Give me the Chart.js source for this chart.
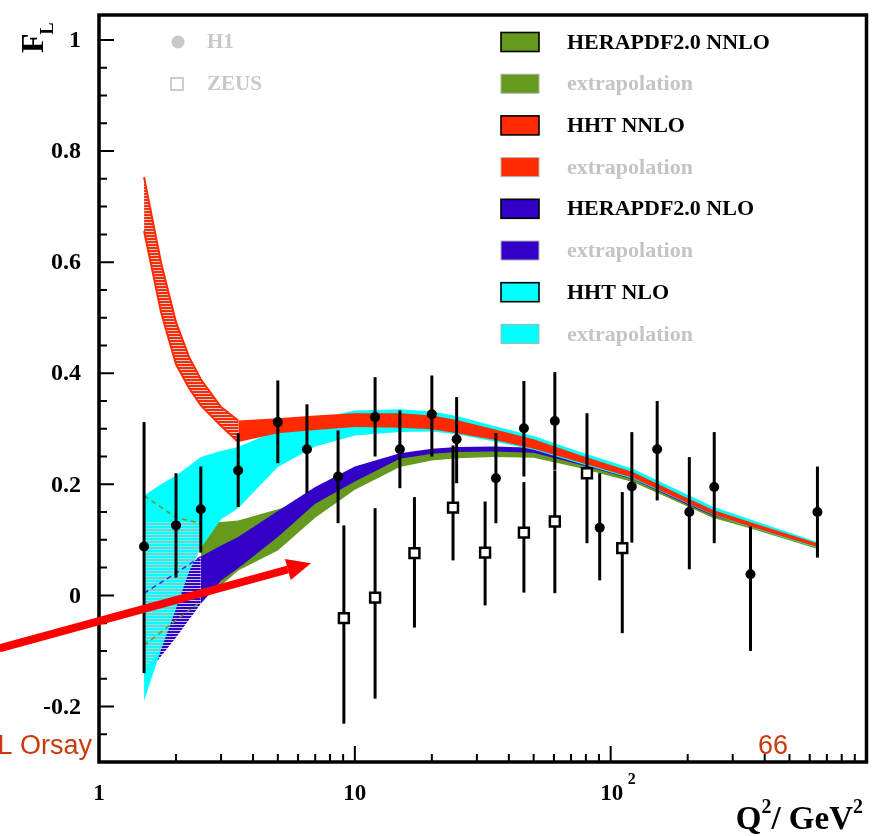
<!DOCTYPE html>
<html>
  <head>
    <meta charset="utf-8" />
    <title>FL vs Q2</title>
    <style>
      body { margin: 0; background: #fff; }
    </style>
  </head>
  <body>
    <canvas id="chart" width="876" height="836"></canvas>
    <script src="https://cdn.jsdelivr.net/npm/chart.js@4.4.1/dist/chart.umd.min.js"></script>
    <script>
      // H1 measurements (Q2, FL, upper and lower end of error bar)
      const h1Q = [1.5, 2.0, 2.5, 3.5, 5.0, 6.5, 8.6, 12, 15, 20, 25, 35.6, 45.8, 60.5, 90.6, 121, 152, 203, 254, 352, 643];
      const h1F = [0.088, 0.126, 0.155, 0.225, 0.312, 0.263, 0.214, 0.321, 0.263, 0.326, 0.281, 0.211, 0.301, 0.314, 0.122, 0.196, 0.263, 0.150, 0.195, 0.038, 0.150];
      const h1Hi = [0.312, 0.220, 0.232, 0.292, 0.387, 0.344, 0.297, 0.393, 0.333, 0.396, 0.357, 0.292, 0.386, 0.402, 0.220, 0.294, 0.350, 0.249, 0.294, 0.124, 0.232];
      const h1Lo = [-0.140, 0.032, 0.077, 0.159, 0.238, 0.184, 0.130, 0.250, 0.193, 0.250, 0.202, 0.130, 0.214, 0.226, 0.027, 0.095, 0.171, 0.047, 0.094, -0.100, 0.068];

      // ZEUS measurements
      const zQ = [9.06, 12.0, 17.1, 24.2, 32.3, 45.8, 60.5, 80.8, 111];
      const zF = [-0.041, -0.004, 0.076, 0.158, 0.077, 0.113, 0.133, 0.220, 0.085];
      const zHi = [0.126, 0.157, 0.177, 0.270, 0.169, 0.204, 0.225, 0.328, 0.186];
      const zLo = [-0.231, -0.186, -0.058, 0.063, -0.018, 0.005, 0.004, 0.094, -0.068];

      // HHT NNLO (red)
      const redExQ = [1.5, 1.75, 2.0, 2.25, 2.5, 3.0, 3.5];
      const redExHi = [0.753, 0.598, 0.492, 0.429, 0.389, 0.339, 0.315];
      const redExLo = [0.656, 0.509, 0.416, 0.373, 0.342, 0.305, 0.276];
      const fitQ = [3.5, 5, 7, 10, 15, 20, 25, 35, 50, 75, 122, 200, 250, 350, 650];
      const redHi = [0.315, 0.319, 0.324, 0.328, 0.328, 0.324, 0.316, 0.299, 0.281, 0.253, 0.222, 0.175, 0.154, 0.132, 0.093];
      const redLo = [0.276, 0.292, 0.298, 0.303, 0.302, 0.299, 0.292, 0.280, 0.264, 0.240, 0.212, 0.166, 0.146, 0.124, 0.086];

      // HHT NLO (cyan)
      const cyanQ = [1.5, 1.75, 2.0, 2.25, 2.5, 3.0, 3.5, 5, 7, 10, 15, 20, 25, 35, 50, 75, 122, 200, 250, 350, 650];
      const cyanHi = [0.180, 0.200, 0.216, 0.233, 0.249, 0.260, 0.267, 0.298, 0.318, 0.333, 0.335, 0.331, 0.323, 0.305, 0.287, 0.259, 0.228, 0.181, 0.160, 0.137, 0.095];
      const cyanLo = [-0.190, -0.097, -0.024, 0.043, 0.085, 0.137, 0.157, 0.231, 0.268, 0.288, 0.294, 0.295, 0.290, 0.277, 0.262, 0.238, 0.210, 0.165, 0.145, 0.123, 0.085];

      // HERAPDF2.0 NNLO (green)
      const exQ = [1.5, 2.0, 2.5];
      const greenExHi = [0.18, 0.14, 0.13];
      const greenExLo = [-0.09, -0.045, -0.011];
      const pdfQ = [2.5, 3.0, 3.5, 5, 7, 10, 15, 20, 25, 35, 50, 75, 122, 200, 250, 350, 650];
      const greenHi = [0.130, 0.132, 0.135, 0.155, 0.175, 0.215, 0.249, 0.257, 0.260, 0.261, 0.259, 0.239, 0.212, 0.166, 0.146, 0.127, 0.088];
      const greenLo = [-0.011, 0.018, 0.045, 0.081, 0.140, 0.190, 0.231, 0.243, 0.247, 0.249, 0.248, 0.230, 0.204, 0.160, 0.140, 0.121, 0.083];

      // HERAPDF2.0 NLO (blue)
      const blueExHi = [0.004, 0.04, 0.07];
      const blueExLo = [-0.148, -0.076, -0.015];
      const blueHi = [0.070, 0.090, 0.105, 0.152, 0.195, 0.232, 0.256, 0.264, 0.267, 0.268, 0.266, 0.244, 0.215, 0.169, 0.149, 0.129, 0.089];
      const blueLo = [-0.015, 0.027, 0.049, 0.105, 0.165, 0.205, 0.246, 0.255, 0.258, 0.259, 0.257, 0.236, 0.209, 0.163, 0.144, 0.125, 0.086];

      // gray hatching over the low-Q2 part of the cyan band
      const hatchQ = [1.5, 1.75, 2.0, 2.25, 2.5];
      const hatchHi = [0.135, 0.135, 0.135, 0.135, 0.135];
      const hatchLo = [-0.135, -0.097, -0.024, 0.043, 0.085];

      const yMajor = [-0.2, 0, 0.2, 0.4, 0.6, 0.8, 1];
      const yLabels = ["-0.2", "0", "0.2", "0.4", "0.6", "0.8", "1"];
      const xMajor = [1, 10, 100];

      const legendLabels = ["HERAPDF2.0 NNLO", "extrapolation", "HHT NNLO", "extrapolation",
        "HERAPDF2.0 NLO", "extrapolation", "HHT NLO", "extrapolation"];

      // arrow annotation in data coordinates
      const arrowFrom = { x: 0.408, y: -0.0955 };
      const arrowTo = { x: 6.74, y: 0.058 };

      const GREEN = "#669a1e";
      const RED = "#ff2a00";
      const BLUE = "#3300c8";
      const CYAN = "#00ffff";
      const legendColors = [GREEN, GREEN, RED, RED, BLUE, BLUE, CYAN, CYAN];

      function stripes(bg, fg, h, rows) {
        const c = document.createElement("canvas");
        c.width = 4;
        c.height = h;
        const g = c.getContext("2d");
        if (bg) {
          g.fillStyle = bg;
          g.fillRect(0, 0, 4, h);
        }
        g.fillStyle = fg;
        g.fillRect(0, 0, 4, rows || 1);
        return g.createPattern(c, "repeat");
      }

      const redHatch = stripes(RED, "#d0d0d0", 3, 1);
      const blueHatch = stripes(BLUE, "#c8c8e8", 3, 1);
      const grayHatch = stripes(null, "#c8c8c8", 3, 1);

      const datasets = [];
      function pts(q, v) {
        return q.map((x, i) => ({ x: x, y: v[i] }));
      }
      function band(label, q, hi, lo, fillColor, order, edge) {
        const lowIdx = datasets.length;
        datasets.push({
          label: label + " low",
          data: pts(q, lo),
          borderColor: edge || fillColor,
          borderWidth: edge ? 2 : 0,
          pointRadius: 0,
          fill: false,
          order: order,
        });
        datasets.push({
          label: label,
          data: pts(q, hi),
          borderColor: edge || fillColor,
          borderWidth: edge ? 2 : 0,
          backgroundColor: fillColor,
          pointRadius: 0,
          fill: lowIdx,
          order: order,
        });
      }
      function dashed(label, q, v, color) {
        datasets.push({
          label: label,
          data: pts(q, v),
          borderColor: color,
          borderWidth: 1.5,
          borderDash: [5, 4],
          pointRadius: 0,
          fill: false,
          order: 40,
        });
      }

      band("green fit", pdfQ, greenHi, greenLo, GREEN, 90);
      band("blue extrap", exQ, blueExHi, blueExLo, blueHatch, 85);
      band("blue fit", pdfQ, blueHi, blueLo, BLUE, 80);
      band("cyan", cyanQ, cyanHi, cyanLo, CYAN, 70);
      band("hatch", hatchQ, hatchHi, hatchLo, grayHatch, 60);
      band("red extrap", redExQ, redExHi, redExLo, redHatch, 50, RED);
      band("red fit", fitQ, redHi, redLo, RED, 50);
      dashed("green up", exQ, greenExHi, GREEN);
      dashed("green low", exQ, greenExLo, GREEN);
      dashed("blue up", exQ, blueExHi, "#4422dd");

      datasets.push({
        label: "ZEUS",
        data: pts(zQ, zF),
        showLine: false,
        pointStyle: "rect",
        pointRadius: 7,
        backgroundColor: "#fff",
        borderColor: "#000",
        borderWidth: 2.5,
        order: 2,
      });
      datasets.push({
        label: "H1",
        data: pts(h1Q, h1F),
        showLine: false,
        pointStyle: "circle",
        pointRadius: 5,
        backgroundColor: "#000",
        borderColor: "#000",
        borderWidth: 0,
        order: 1,
      });

      const serif = '"Liberation Serif", "Times New Roman", serif';

      const decor = {
        id: "decor",
        beforeDatasetDraw(chart, args) {
          if (chart.data.datasets[args.index].label !== "ZEUS") return;
          const ctx = chart.ctx;
          const xs = chart.scales.x;
          const ys = chart.scales.y;
          ctx.save();
          ctx.strokeStyle = "#000";
          ctx.lineWidth = 3;
          const bars = (q, lo, hi) => {
            q.forEach((v, i) => {
              const px = xs.getPixelForValue(v);
              ctx.beginPath();
              ctx.moveTo(px, ys.getPixelForValue(lo[i]));
              ctx.lineTo(px, ys.getPixelForValue(hi[i]));
              ctx.stroke();
            });
          };
          bars(zQ, zLo, zHi);
          bars(h1Q, h1Lo, h1Hi);
          ctx.restore();
        },
        afterDraw(chart) {
          const ctx = chart.ctx;
          const a = chart.chartArea;
          const xs = chart.scales.x;
          const ys = chart.scales.y;
          ctx.save();

          // frame
          ctx.strokeStyle = "#000";
          ctx.lineWidth = 3.5;
          ctx.strokeRect(a.left, a.top, a.right - a.left, a.bottom - a.top);

          // ticks
          ctx.lineWidth = 2;
          ctx.beginPath();
          for (let k = -6; k <= 20; k++) {
            const v = k * 0.05;
            if (v < ys.min || v > ys.max) continue;
            const py = ys.getPixelForValue(v);
            const len = k % 4 === 0 ? 15 : 8;
            ctx.moveTo(a.left, py);
            ctx.lineTo(a.left + len, py);
          }
          for (let d = 1; d <= 100; d *= 10) {
            for (let m = 1; m <= 9; m++) {
              const v = d * m;
              if (v > xs.max) continue;
              const px = xs.getPixelForValue(v);
              const len = m === 1 ? 16 : 8;
              ctx.moveTo(px, a.bottom);
              ctx.lineTo(px, a.bottom - len);
            }
          }
          ctx.stroke();

          // tick labels
          ctx.fillStyle = "#000";
          ctx.font = "bold 24px " + serif;
          ctx.textAlign = "right";
          ctx.textBaseline = "middle";
          yMajor.forEach((v, i) => {
            ctx.fillText(yLabels[i], 81, ys.getPixelForValue(v) + 1);
          });
          ctx.textAlign = "center";
          ctx.textBaseline = "alphabetic";
          ctx.font = "bold 23px " + serif;
          ctx.fillText("1", xs.getPixelForValue(xMajor[0]), 800);
          ctx.fillText("10", xs.getPixelForValue(xMajor[1]), 800);
          ctx.fillText("10", xs.getPixelForValue(xMajor[2]) + 1, 800);
          ctx.font = "bold 16px " + serif;
          ctx.textAlign = "left";
          ctx.fillText("2", xs.getPixelForValue(xMajor[2]) + 17, 784);

          // axis titles
          const parts = [["Q", 33, 0], ["2", 20, -16], ["/ GeV", 33, 0], ["2", 20, -16]];
          let total = 0;
          parts.forEach((p) => {
            ctx.font = "bold " + p[1] + "px " + serif;
            total += ctx.measureText(p[0]).width;
          });
          let tx = 863 - total;
          parts.forEach((p) => {
            ctx.font = "bold " + p[1] + "px " + serif;
            ctx.fillText(p[0], tx, 829 + p[2]);
            tx += ctx.measureText(p[0]).width;
          });

          ctx.save();
          ctx.translate(43, 53);
          ctx.rotate(-Math.PI / 2);
          ctx.font = "bold 32px " + serif;
          ctx.textAlign = "left";
          ctx.fillText("F", 0, 0);
          const fw = ctx.measureText("F").width;
          ctx.font = "bold 18px " + serif;
          ctx.fillText("L", fw - 1, 10);
          ctx.restore();

          // H1 / ZEUS legend
          ctx.fillStyle = "#c8c8c8";
          ctx.beginPath();
          ctx.arc(178, 42, 6.5, 0, Math.PI * 2);
          ctx.fill();
          ctx.strokeStyle = "#c8c8c8";
          ctx.lineWidth = 1.8;
          ctx.strokeRect(171, 78, 12, 12);
          ctx.font = "bold 21px " + serif;
          ctx.textAlign = "left";
          ctx.textBaseline = "middle";
          ctx.fillText("H1", 207, 43);
          ctx.fillText("ZEUS", 207, 85);

          // band legend
          ctx.font = "bold 22px " + serif;
          legendLabels.forEach((lab, i) => {
            const cy = 42 + i * 41.7;
            const extra = i % 2 === 1;
            ctx.fillStyle = legendColors[i];
            ctx.fillRect(501, cy - 9.5, 38, 19);
            ctx.strokeStyle = extra ? "#b0b0b0" : "#000";
            ctx.lineWidth = extra ? 1 : 1.6;
            ctx.strokeRect(501, cy - 9.5, 38, 19);
            ctx.fillStyle = extra ? "#c4c4c4" : "#000";
            ctx.fillText(lab, 567, cy + 1);
          });

          // slide overlay: arrow and footer text
          const x0 = xs.getPixelForValue(arrowFrom.x);
          const y0 = ys.getPixelForValue(arrowFrom.y);
          const x1 = xs.getPixelForValue(arrowTo.x);
          const y1 = ys.getPixelForValue(arrowTo.y);
          const ang = Math.atan2(y1 - y0, x1 - x0);
          const headL = 24;
          const bx = x1 - headL * Math.cos(ang);
          const by = y1 - headL * Math.sin(ang);
          ctx.strokeStyle = "#ff0000";
          ctx.fillStyle = "#ff0000";
          ctx.lineWidth = 8;
          ctx.beginPath();
          ctx.moveTo(x0, y0);
          ctx.lineTo(bx, by);
          ctx.stroke();
          ctx.beginPath();
          ctx.moveTo(x1, y1);
          ctx.lineTo(bx + 11 * Math.sin(ang), by - 11 * Math.cos(ang));
          ctx.lineTo(bx - 11 * Math.sin(ang), by + 11 * Math.cos(ang));
          ctx.closePath();
          ctx.fill();

          ctx.fillStyle = "#cc3a0a";
          ctx.font = '27px "Liberation Sans", Arial, sans-serif';
          ctx.textBaseline = "alphabetic";
          ctx.textAlign = "right";
          ctx.fillText("LAL Orsay", 92, 754);
          ctx.textAlign = "center";
          ctx.fillText("66", 773, 754);

          ctx.restore();
        },
      };

      new Chart(document.getElementById("chart"), {
        type: "line",
        data: { datasets: datasets },
        options: {
          responsive: false,
          animation: false,
          layout: { padding: { left: 0, right: 3, top: 15, bottom: 0 } },
          elements: { line: { tension: 0 } },
          scales: {
            x: {
              type: "logarithmic",
              min: 1,
              max: 1000,
              grid: { display: false },
              border: { display: false },
              ticks: { display: false },
              afterFit(s) { s.height = 74; },
            },
            y: {
              type: "linear",
              min: -0.3,
              max: 1.045,
              grid: { display: false },
              border: { display: false },
              ticks: { display: false },
              afterFit(s) { s.width = 99; },
            },
          },
          plugins: {
            legend: { display: false },
            tooltip: { enabled: false },
          },
        },
        plugins: [decor],
      });
    </script>
  </body>
</html>
